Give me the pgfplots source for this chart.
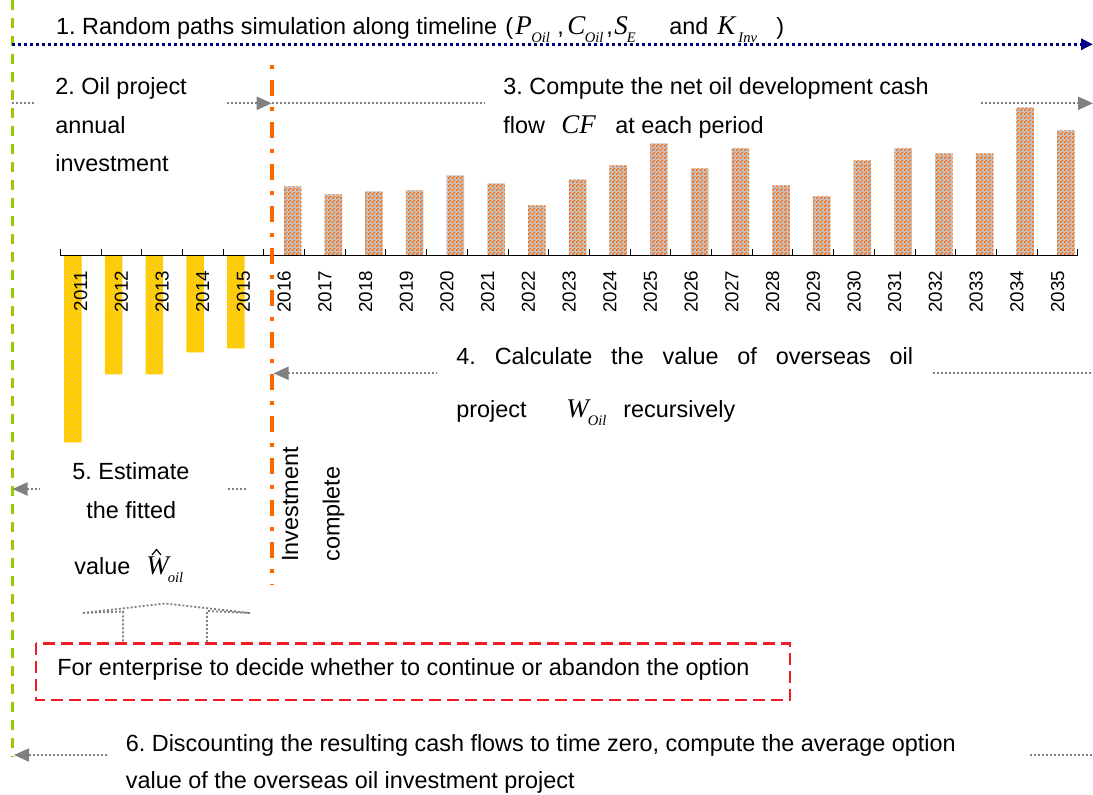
\documentclass[border=0pt]{standalone}
\usepackage{fontspec}
\setmainfont{Liberation Sans}
\newfontfamily\tms{Liberation Serif}
\usepackage{pgfplots}
\pgfplotsset{compat=1.18}
\usetikzlibrary{patterns,arrows.meta}
\definecolor{cforange}{HTML}{FF6600}
\definecolor{cfgray}{HTML}{C4C4C4}
\definecolor{invyellow}{HTML}{FFCC00}
\definecolor{invdot}{HTML}{DCCB8C}
\definecolor{lgreen}{HTML}{99CC00}
\definecolor{navyb}{HTML}{000080}
\definecolor{arrgray}{HTML}{808080}
\definecolor{boxred}{HTML}{EE1C25}
\pgfdeclarepatternformonly{checker}{\pgfpointorigin}{\pgfpoint{2pt}{2pt}}{\pgfpoint{2pt}{2pt}}{%
  \pgfpathrectangle{\pgfpointorigin}{\pgfpoint{1pt}{1pt}}%
  \pgfpathrectangle{\pgfpoint{1pt}{1pt}}{\pgfpoint{1pt}{1pt}}%
  \pgfusepath{fill}}
\pgfdeclarepatternformonly{ydots}{\pgfpoint{-0.5pt}{-0.5pt}}{\pgfpoint{4pt}{4pt}}{\pgfpoint{3.5pt}{3.5pt}}{%
  \pgfpathcircle{\pgfpoint{0.8pt}{0.8pt}}{0.45pt}%
  \pgfpathcircle{\pgfpoint{2.55pt}{2.55pt}}{0.45pt}%
  \pgfusepath{fill}}
\newcommand\V[3][0.3pt]{{\fontsize{13.5}{14}\selectfont\tms\itshape #2}\kern#1\raisebox{-3.6pt}{\fontsize{7.3}{8}\selectfont\tms\itshape #3}}
\pgfplotstableread{
x y
0 -187
1 -119
2 -119
3 -97
4 -93
}\invtable
\pgfplotstableread{
x y
5 69
6 61
7 64
8 65
9 80
10 72
11 50
12 76
13 90
14 112
15 87
16 107
17 70
18 59
19 95
20 107
21 102
22 102
23 148
24 125
}\cftable
\begin{document}
\frenchspacing
\begin{tikzpicture}
\path[use as bounding box] (0,0) rectangle (546.5pt,-397.5pt);
\begin{axis}[
  at={(30.15pt,-227.75pt)}, anchor=south west,
  scale only axis, width=508.8pt, height=175pt,
  xmin=-0.5, xmax=24.5, ymin=-200, ymax=150,
  axis x line=middle, axis y line=none,
  axis on top,
  x axis line style={-, line width=0.8pt, black},
  xtick={0,...,24},
  xticklabels={2011,2012,2013,2014,2015,2016,2017,2018,2019,2020,2021,2022,2023,2024,2025,2026,2027,2028,2029,2030,2031,2032,2033,2034,2035},
  minor xtick={-0.5,0.5,...,24.5},
  major tick length=0pt, minor tick length=3pt,
  xtick align=inside,
  minor tick style={line width=0.5pt, black},
  hide obscured x ticks=false,
  xticklabel style={rotate=90, anchor=east, inner xsep=7.5pt, inner ysep=0pt, font=\fontsize{9.4}{10}\selectfont},
  clip=false,
]
\addplot[ybar, bar width=8.75pt, bar shift=-3.85pt, draw=none, fill=invyellow,
  postaction={pattern=ydots, pattern color=invdot}] table[x=x,y=y] {\invtable};
\addplot[ybar, bar width=8.75pt, bar shift=4.2pt, draw=none, fill=cfgray,
  postaction={pattern=checker, pattern color=cforange}] table[x=x,y=y] {\cftable};
\end{axis}
\begin{scope}[x=0.5pt,y=-0.5pt,
  T/.style={anchor=base west, inner sep=0pt, font=\fontsize{11.7}{14}\selectfont},
  gdot/.style={arrgray, line width=1pt, dash pattern=on 1pt off 1pt},
  gtip/.style={-{Triangle[length=7.5pt,width=6.5pt]}},
  gtipl/.style={{Triangle[length=7.5pt,width=6.5pt]}-}]
% green dashed vertical
\draw[lgreen, line width=1.5pt, dash pattern=on 5pt off 4pt] (12.5,0) -- (12.5,757);
% blue dotted timeline
\draw[navyb, line width=1.6pt, dash pattern=on 1.4pt off 1.6pt, -{Triangle[length=6pt,width=5.5pt]}] (12,44.3) -- (1093,44.3);
% orange dash-dot line
\draw[cforange, line width=2pt, dash pattern=on 2pt off 5.5pt on 8pt off 5.5pt] (271.7,65) -- (271.7,585);
% gray arrows
\draw[gdot] (12,103.3) -- (35,103.3);
\draw[gdot, gtip] (227,103.3) -- (271.7,103.3);
\draw[gdot] (271.7,103.3) -- (484,103.3);
\draw[gdot, gtip] (981,103.3) -- (1093,103.3);
\draw[gdot, gtipl] (273.6,373.3) -- (436.7,373.3);
\draw[gdot] (933,373.3) -- (1093,373.3);
\draw[gdot, gtipl] (12.5,489) -- (40,489);
\draw[gdot] (228,489) -- (245.5,489);
\draw[gdot, gtipl] (14,755) -- (108,755);
\draw[gdot] (1030,755) -- (1093,755);
% block arrow up
\draw[gdot, line width=0.9pt] (83,613) -- (165,603.5) -- (250,613);
\draw[gdot, line width=0.9pt] (83,613) -- (123,611.5) -- (123,643);
\draw[gdot, line width=0.9pt] (250,613) -- (207,611) -- (207,643);
% red dashed box
\draw[boxred, line width=1.3pt, dash pattern=on 6pt off 3pt] (36,643.3) rectangle (790,700);
% texts
\node[T] at (55.8,35) {1. Random paths simulation along timeline};
\node[T] at (505,35) {(};
\node[T] at (515,35) {\V[-0.3pt]{P}{Oil}};
\node[T] at (557,35) {,};
\node[T] at (567,35) {\V[-0.3pt]{C}{Oil}};
\node[T] at (606,35) {,};
\node[T] at (614,35) {\V[-0.5pt]{S}{E}};
\node[T] at (669,35) {and};
\node[T] at (717,35) {\V[1.5pt]{K}{Inv}};
\node[T] at (776,35) {)};
\node[T] at (55,95) {2. Oil project};
\node[T] at (55,133.5) {annual};
\node[T] at (55,171.5) {investment};
\node[T] at (503,95) {3. Compute the net oil development cash};
\node[T] at (503,133.5) {flow};
\node[T] at (561,133.5) {{\fontsize{13.5}{14}\selectfont\tms\itshape CF}};
\node[T] at (615,133.5) {at each period};
\node[T] at (456,364.5) {\makebox[228.4pt][s]{4. Calculate the value of overseas oil}};
\node[T] at (456,418) {project};
\node[T] at (566,418) {\V[-0.5pt]{W}{Oil}};
\node[T] at (623,418) {recursively};
\node[T] at (72,480) {5. Estimate};
\node[T] at (86,518.5) {the fitted};
\node[T] at (74,575) {value};
\node[T] at (146,575) {\V[-0.5pt]{W}{oil}};
\draw[black, line width=0.6pt] (152,555) -- (156.5,549.5) -- (161,555);
\node[T, rotate=90] at (298,562) {Investment};
\node[T, rotate=90] at (339.5,562) {complete};
\node[T] at (57,676) {For enterprise to decide whether to continue or abandon the option};
\node[T] at (125.5,752) {6. Discounting the resulting cash flows to time zero, compute the average option};
\node[T] at (125.5,789) {value of the overseas oil investment project};
\end{scope}
\end{tikzpicture}
\end{document}
